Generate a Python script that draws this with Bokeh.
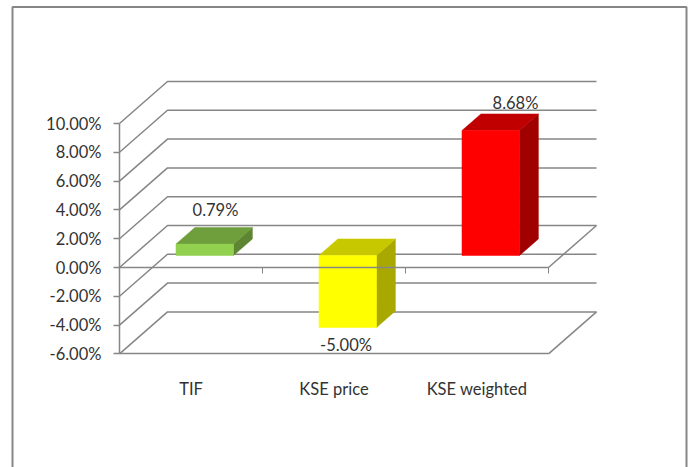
from bokeh.plotting import figure
from bokeh.models import LinearAxis, FixedTicker, ColumnDataSource
from bokeh.core.properties import value
from bokeh.embed import file_html
from bokeh.resources import INLINE

categories = ["TIF", "KSE price", "KSE weighted"]
returns = [0.79, -5.00, 8.68]
labels = ["0.79%", "-5.00%", "8.68%"]
levels = [-6, -4, -2, 0, 2, 4, 6, 8, 10]
front_colors = ["#92D050", "#FFFF00", "#FF0000"]
top_colors = ["#6F9E3D", "#C8C800", "#C00000"]
side_colors = ["#5E8632", "#A8A800", "#A00000"]
label_dx = [24.5, 12, 38.5]
label_dy = [-46.6, 5, -40]

W, H = 691, 467
PX_X = 143.0      # pixels per category
PX_Y = 14.4       # pixels per percentage point
X0_PX, Y0_PX = 119.0, 267.0   # screen position of (first category edge, 0%)
DX = 48.0 / PX_X  # full chart depth in data units
DY = 42.0 / PX_Y
D_FRONT, D_BACK = 0.286, 0.68  # bar depth range as share of chart depth
HALF = 0.201
LEFT, RIGHT = -0.5, 2.5
GRID = "#868686"
TEXT = "#333333"
FONT = "Lato"
TICK_LEN = 6.0 / PX_Y

p = figure(width=W, height=H, output_backend="svg", toolbar_location=None,
           x_range=(LEFT - X0_PX / PX_X, LEFT + (W - X0_PX) / PX_X),
           y_range=(-(H - Y0_PX) / PX_Y, Y0_PX / PX_Y),
           x_axis_type=None, y_axis_type=None, min_border=0,
           background_fill_color="white", border_fill_color="white")
p.outline_line_color = None
p.grid.visible = False


def proj(x, y, d):
    return x + d * DX, y + d * DY


# outer chart border, open at the bottom of the picture
bx = [LEFT + (px - X0_PX) / PX_X for px in (12, 12, 686, 686)]
by = [(Y0_PX - py) / PX_Y for py in (H + 20, 6.5, 6.5, H + 20)]
p.line(bx, by, line_color=GRID, line_width=2)

# walls and floor grid
gx, gy = [], []
for lv in levels:
    gx.append([LEFT, LEFT + DX, RIGHT + DX])
    gy.append([lv, lv + DY, lv + DY])
for lv in (-6, 0):
    gx.append([RIGHT + DX, RIGHT])
    gy.append([lv + DY, lv])
p.multi_line(gx, gy, line_color=GRID, line_width=1.5)

# 3D bars
for i, v in enumerate(returns):
    lo, hi = min(v, 0), max(v, 0)
    x1, x2 = i - HALF, i + HALF
    fx1, fb = proj(x1, lo, D_FRONT)
    fx2, ft = proj(x2, hi, D_FRONT)
    bx1, bt = proj(x1, hi, D_BACK)
    bx2, bb = proj(x2, lo, D_BACK)
    p.patch([fx2, bx2, bx2, fx2], [fb, bb, bt, ft], fill_color=side_colors[i], line_color=side_colors[i], line_width=0.5)
    p.patch([fx1, bx1, bx2, fx2], [ft, bt, bt, ft], fill_color=top_colors[i], line_color=top_colors[i], line_width=0.5)
    p.patch([fx1, fx2, fx2, fx1], [fb, fb, ft, ft], fill_color=front_colors[i], line_color=front_colors[i], line_width=0.5)

# zero line in front of the bars, with category separators
p.line([LEFT, RIGHT], [0, 0], line_color=GRID, line_width=1.5)
seps = [0.5, 1.5, 2.5]
p.segment(seps, [0] * 3, seps, [-TICK_LEN] * 3, line_color=GRID, line_width=1)

# data labels
src = ColumnDataSource(dict(x=[0, 1, 2], y=returns, t=labels, dx=label_dx, dy=label_dy))
p.text("x", "y", text="t", source=src, x_offset="dx", y_offset="dy", text_align="center",
       text_baseline="middle", text_font=value(FONT), text_font_size="16.5px", text_color=TEXT)

# y axis on the front-left edge
ya = LinearAxis(fixed_location=LEFT, bounds=(-6, 10), ticker=FixedTicker(ticks=levels))
ya.major_label_overrides = {lv: f"{lv:.2f}%" for lv in levels}
ya.axis_line_color = GRID
ya.axis_line_width = 1.5
ya.major_tick_line_color = GRID
ya.major_tick_line_width = 1.5
ya.major_tick_in = 0
ya.major_tick_out = 6
ya.minor_tick_line_color = None
ya.major_label_standoff = 12
ya.major_label_text_font = FONT
ya.major_label_text_font_size = "16.5px"
ya.major_label_text_color = TEXT
p.add_layout(ya, "left")

# floor line with category labels
xa = LinearAxis(fixed_location=-6, bounds=(LEFT, RIGHT), ticker=FixedTicker(ticks=[0, 1, 2]))
xa.major_label_overrides = {i: c for i, c in enumerate(categories)}
xa.axis_line_color = GRID
xa.axis_line_width = 1.5
xa.major_tick_line_color = None
xa.minor_tick_line_color = None
xa.major_label_standoff = 19
xa.major_label_text_font = FONT
xa.major_label_text_font_size = "16.5px"
xa.major_label_text_color = TEXT
p.add_layout(xa, "below")

open("out.html", "w").write(file_html(p, INLINE))
